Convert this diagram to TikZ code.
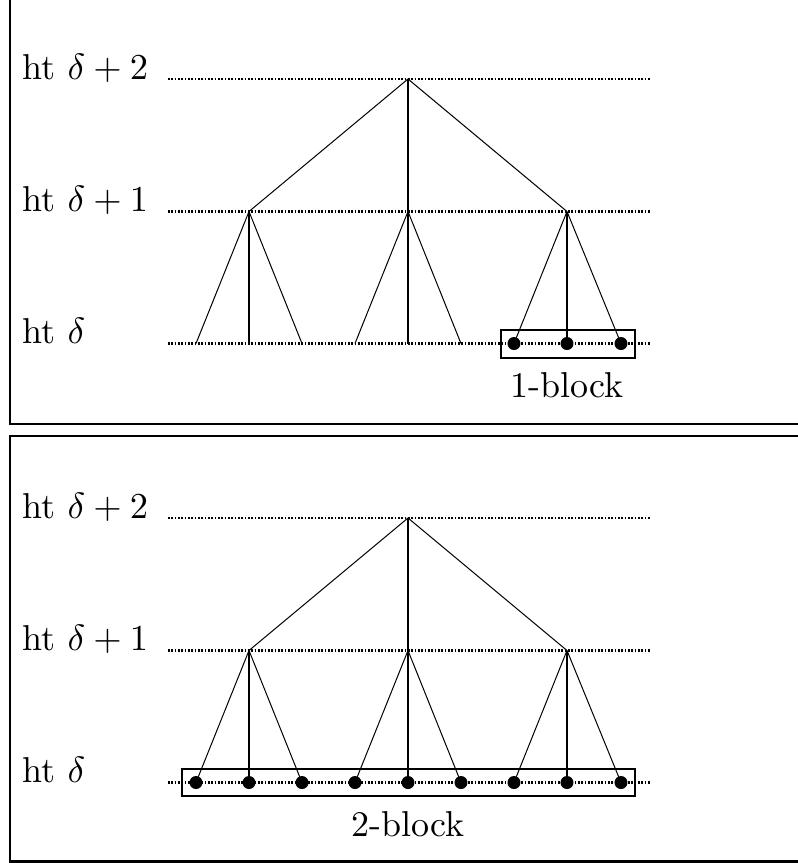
\documentclass[tikz,border=0pt]{standalone}
\begin{document}
\begin{tikzpicture}[x=0.3pt,y=-0.3pt,
  frameline/.style={line width=0.75pt},
  edgethin/.style={line width=0.3pt},
  edgethick/.style={line width=0.65pt},
  levelline/.style={line width=0.65pt, dash pattern=on 0.55pt off 0.45pt},
  leafdot/.style={circle, fill, inner sep=0pt, minimum size=3.9pt},
  lab/.style={anchor=base west, inner sep=0pt, font=\fontsize{10.8}{13}\selectfont},
  blocklab/.style={anchor=base, inner sep=0pt, font=\fontsize{10.8}{13}\selectfont},
  blockbox/.style={line width=0.6pt}]
\useasboundingbox (0,0) rectangle (798,863);
\clip (0,0) rectangle (798,863);
% frames
\draw[frameline] (10,-10) rectangle (820,424);
\draw[frameline] (10,436) rectangle (820,861.5);
\foreach \p/\dy in {t/0,b/439}{
\begin{scope}[shift={(0,\dy)}]
  \node[lab] (\p-h2) at (22,79) {ht $\delta+2$};
  \node[lab] (\p-h1) at (22,211.5) {ht $\delta+1$};
  \node[lab] (\p-h0) at (22,343.5) {ht $\delta$};
  \coordinate (\p-d2s) at (168,79);  \coordinate (\p-d2e) at (650,79);
  \coordinate (\p-d1s) at (168,211.5); \coordinate (\p-d1e) at (650,211.5);
  \coordinate (\p-d0s) at (168,343.5); \coordinate (\p-d0e) at (650,343.5);
  \draw[levelline] (\p-d2s) -- (\p-d2e);
  \draw[levelline] (\p-d1s) -- (\p-d1e);
  \draw[levelline] (\p-d0s) -- (\p-d0e);
  \coordinate (\p-r) at (408,79);
  \coordinate (\p-m1) at (249,211.5);
  \coordinate (\p-m2) at (408,211.5);
  \coordinate (\p-m3) at (567,211.5);
  \foreach \i/\x in {1/196,2/249,3/302,4/355,5/408,6/461,7/514,8/567,9/621}{
    \coordinate (\p-l\i) at (\x,343.5);
  }
  \draw[edgethin] (\p-r) -- (\p-m1);
  \draw[edgethin] (\p-r) -- (\p-m3);
  \draw[edgethick] (\p-r) -- (\p-m2);
  \draw[edgethin] (\p-m1) -- (\p-l1); \draw[edgethick] (\p-m1) -- (\p-l2); \draw[edgethin] (\p-m1) -- (\p-l3);
  \draw[edgethin] (\p-m2) -- (\p-l4); \draw[edgethick] (\p-m2) -- (\p-l5); \draw[edgethin] (\p-m2) -- (\p-l6);
  \draw[edgethin] (\p-m3) -- (\p-l7); \draw[edgethick] (\p-m3) -- (\p-l8); \draw[edgethin] (\p-m3) -- (\p-l9);
\end{scope}
}
% top: 1-block
\foreach \i in {7,8,9}{ \node[leafdot] (t-dot\i) at (t-l\i) {}; }
\coordinate (t-bx1) at (501,329.5); \coordinate (t-bx2) at (635,357.5);
\draw[blockbox] (t-bx1) rectangle (t-bx2);
\node[blocklab] (t-blk) at (567,397) {1-block};
% bottom: 2-block
\foreach \i in {1,...,9}{ \node[leafdot] (b-dot\i) at (b-l\i) {}; }
\coordinate (b-bx1) at (182,768.5); \coordinate (b-bx2) at (635,796);
\draw[blockbox] (b-bx1) rectangle (b-bx2);
\node[blocklab] (b-blk) at (408,836) {2-block};
\end{tikzpicture}
\end{document}
